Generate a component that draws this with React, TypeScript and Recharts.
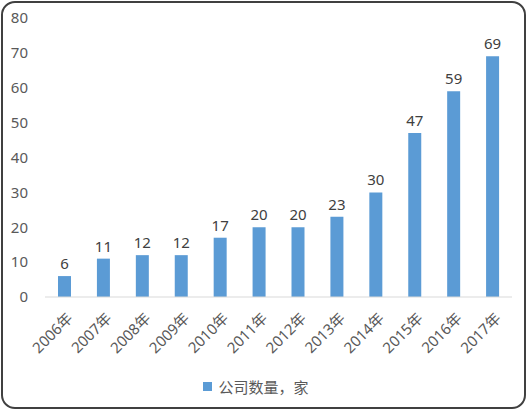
import { Bar, BarChart, LabelList, Legend, XAxis, YAxis } from "recharts";

const years = ["2006年", "2007年", "2008年", "2009年", "2010年", "2011年", "2012年", "2013年", "2014年", "2015年", "2016年", "2017年"];
const companyCounts = [6, 11, 12, 12, 17, 20, 20, 23, 30, 47, 59, 69];
const yTicks = [0, 10, 20, 30, 40, 50, 60, 70, 80];
const seriesName = "公司数量，家";

const data = years.map((year, i) => ({ year, count: companyCounts[i] }));

const font = "'Noto Sans', 'Noto Sans CJK SC', sans-serif";

function YearTick(props: any) {
  const { x, y, payload } = props;
  const ax = x + 5;
  const ay = y + 10;
  return (
    <text
      x={ax}
      y={ay}
      transform={`rotate(-45, ${ax}, ${ay})`}
      textAnchor="end"
      dominantBaseline="central"
      fill="#595959"
      fontSize={15}
      fontFamily={font}
    >
      {payload.value}
    </text>
  );
}

function LegendContent() {
  return (
    <div style={{ display: "flex", justifyContent: "center", alignItems: "center", fontFamily: font, fontSize: 15, color: "#595959" }}>
      <span style={{ width: 9, height: 9, background: "#5B9BD5", display: "inline-block", marginRight: 6 }} />
      <span>{seriesName}</span>
    </div>
  );
}

export default function App() {
  return (
    <div style={{ position: "relative", width: 530, height: 413, background: "#fff" }}>
      <style>{"body{margin:0}"}</style>
      <div
        style={{
          position: "absolute",
          left: 1,
          top: 1,
          width: 525,
          height: 408,
          border: "2px solid #404040",
          borderRadius: 14,
          boxSizing: "border-box",
          pointerEvents: "none",
        }}
      />
      <div style={{ position: "absolute", left: 0, top: 0 }}>
        <BarChart width={530} height={413} data={data} margin={{ top: 18, right: 18, bottom: 0, left: 0 }} barCategoryGap={0}>
          <YAxis
            domain={[0, 80]}
            ticks={yTicks}
            width={45}
            axisLine={false}
            tickLine={false}
            tickSize={0}
            tickMargin={17}
            tick={{ fill: "#595959", fontSize: 15, fontFamily: font }}
          />
          <XAxis
            dataKey="year"
            interval={0}
            height={95}
            axisLine={{ stroke: "#D9D9D9", strokeWidth: 1 }}
            tickLine={false}
            tick={<YearTick />}
          />
          <Legend verticalAlign="bottom" content={<LegendContent />} wrapperStyle={{ bottom: 16 }} />
          <Bar dataKey="count" name={seriesName} fill="#5B9BD5" barSize={13} isAnimationActive={false}>
            <LabelList dataKey="count" position="top" offset={7} fill="#404040" fontSize={15} fontFamily={font} />
          </Bar>
        </BarChart>
      </div>
    </div>
  );
}
